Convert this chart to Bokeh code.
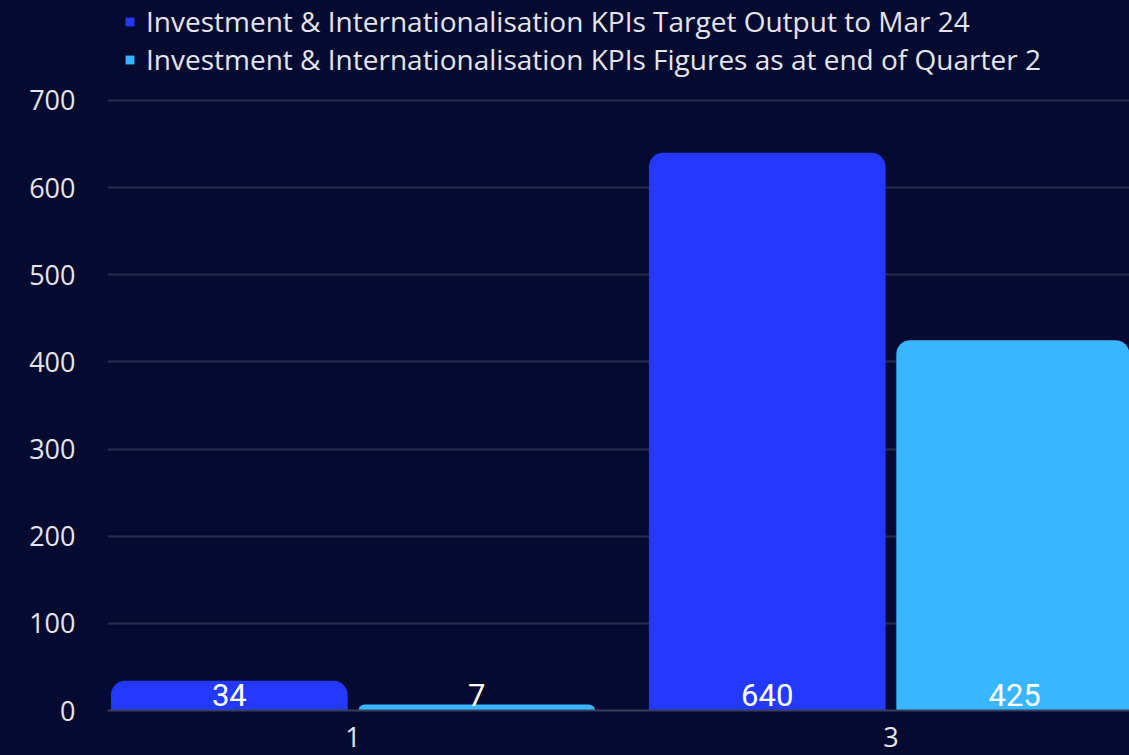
from bokeh.plotting import figure
from bokeh.models import ColumnDataSource, FixedTicker, Legend, LegendItem, Range1d
from bokeh.transform import dodge
from bokeh.core.properties import value
from bokeh.embed import file_html
from bokeh.resources import INLINE

categories = [1, 3]
target_output = [34, 640]
quarter2_figures = [7, 425]
series_names = [
    "Investment & Internationalisation KPIs Target Output to Mar 24",
    "Investment & Internationalisation KPIs Figures as at end of Quarter 2",
]
y_ticks = [0, 100, 200, 300, 400, 500, 600, 700]

BG = "#050b30"
BLUE = "#2339ff"
LIGHT = "#38b6ff"
TXT = "#e4e5ee"

src = ColumnDataSource(dict(
    x=categories,
    t=target_output,
    a=quarter2_figures,
    tl=[str(v) for v in target_output],
    al=[str(v) for v in quarter2_figures],
    zero=[0, 0],
))

p = figure(width=1129, height=755, output_backend="svg", toolbar_location=None,
           x_range=Range1d(0.087, 3.887), y_range=Range1d(0, 814.75),
           background_fill_alpha=0, border_fill_alpha=0,
           min_border_left=107, min_border_right=0, min_border_top=0, min_border_bottom=45)
p.styles = {"background-color": BG}
p.outline_line_color = None

r1 = p.vbar(x=dodge("x", -0.46), top="t", width=0.88, source=src,
            fill_color=BLUE, line_color=None, border_radius=(14, 14, 0, 0))
r2 = p.vbar(x=dodge("x", 0.46), top="a", width=0.88, source=src,
            fill_color=LIGHT, line_color=None, border_radius=(14, 14, 0, 0))

for col, off in (("tl", -0.46), ("al", 0.46)):
    p.text(x=dodge("x", off), y="zero", text=col, source=src,
           text_font=value("Roboto"), text_font_size="31px", text_color="white",
           text_align="center", text_baseline="bottom", y_offset=-5)

# axes
p.xaxis.ticker = FixedTicker(ticks=categories)
p.yaxis.ticker = FixedTicker(ticks=y_ticks)
for ax in (p.xaxis[0], p.yaxis[0]):
    ax.major_tick_line_color = None
    ax.minor_tick_line_color = None
    ax.major_label_text_font = "Open Sans"
    ax.major_label_text_font_size = "27px"
    ax.major_label_text_color = TXT
p.yaxis.axis_line_color = None
p.yaxis.major_label_standoff = 26
p.xaxis.axis_line_color = "#3a3f5c"
p.xaxis.axis_line_width = 2
p.xaxis.major_label_standoff = 10

p.xgrid.grid_line_color = None
p.ygrid.ticker = FixedTicker(ticks=y_ticks[1:])
p.ygrid.grid_line_color = "#262c4d"
p.ygrid.grid_line_width = 2

legend = Legend(items=[LegendItem(label=series_names[0], renderers=[r1]),
                       LegendItem(label=series_names[1], renderers=[r2])],
                location="top_left", orientation="vertical",
                background_fill_alpha=0, border_line_color=None,
                label_text_font="Open Sans", label_text_font_size="28px",
                label_text_color=TXT, glyph_width=11, glyph_height=11,
                label_standoff=11, spacing=-2, padding=0, margin=0,
                label_height=34)
p.add_layout(legend)
legend.location = (17, 632)

open("out.html", "w").write(file_html(p, INLINE))
